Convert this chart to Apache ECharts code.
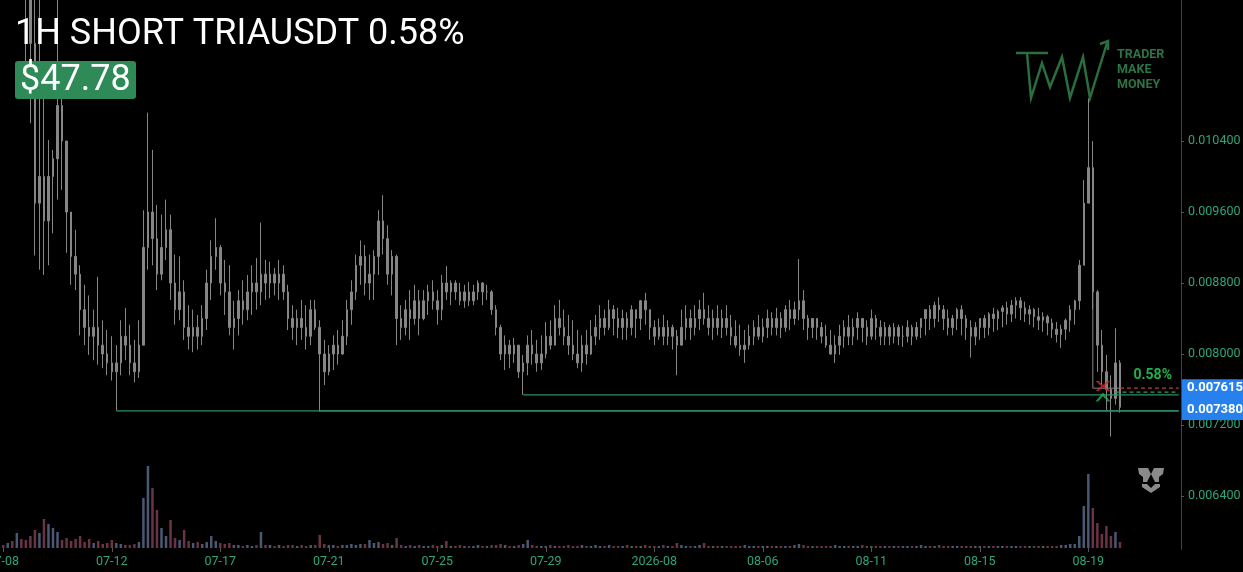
<!DOCTYPE html>
<html>
<head>
<meta charset="utf-8">
<script src="https://cdn.jsdelivr.net/npm/echarts@6/dist/echarts.min.js"></script>
<style>
html,body{margin:0;padding:0;background:#000;}
#c{width:1243px;height:572px;}
</style>
</head>
<body>
<div id="c"></div>
<script>
// ---------------- DATA ----------------
const tickLabels = ['07-08','07-12','07-17','07-21','07-25','07-29','2026-08','08-06','08-11','08-15','08-19'];
const yTicks = [0.0064, 0.0072, 0.0080, 0.0088, 0.0096, 0.0104];

const firstOpen = 0.0130;
const closes = [
0.0128,0.0131,0.0127,0.0129,0.0126,0.0121,0.0115,0.0097,0.0100,0.0095,
0.0100,0.0102,0.0108,0.0104,0.0096,0.0091,0.0089,0.0085,0.0083,0.0082,
0.0083,0.0081,0.0080,0.0079,0.0078,0.0079,0.0082,0.0081,0.0079,0.0078,
0.0081,0.0092,0.0096,0.0093,0.0089,0.0092,0.0094,0.0088,0.0085,0.0087,
0.0083,0.0082,0.0083,0.0082,0.0084,0.0088,0.0091,0.0092,0.0088,0.0087,
0.0083,0.0084,0.0086,0.0085,0.0087,0.0088,0.0087,0.0089,0.0088,0.0089,
0.0088,0.0089,0.0087,0.0084,0.0083,0.0084,0.0083,0.0082,0.0085,0.0083,
0.0080,0.0078,0.0080,0.0081,0.0080,0.0082,0.0085,0.0087,0.0090,0.0091,
0.0088,0.0089,0.0091,0.0095,0.0093,0.0089,0.0091,0.0084,0.0083,0.0085,
0.0084,0.0086,0.0084,0.0086,0.0087,0.0086,0.0085,0.0088,0.0087,0.0088,
0.0087,0.0086,0.0087,0.0086,0.0087,0.0088,0.0087,0.0087,0.0085,0.0083,
0.0080,0.0081,0.0080,0.0081,0.0078,0.0079,0.0081,0.0080,0.0079,0.0080,
0.0082,0.0081,0.0084,0.0083,0.0082,0.0081,0.0080,0.0079,0.0081,0.0080,
0.0082,0.0083,0.0084,0.0083,0.0085,0.0084,0.0083,0.0084,0.0083,0.0085,
0.0084,0.0086,0.0085,0.0083,0.0082,0.0083,0.0082,0.0083,0.0082,0.0081,
0.0083,0.0084,0.0083,0.0084,0.0085,0.0084,0.0083,0.0084,0.0083,0.0084,
0.0083,0.0082,0.0081,0.00805,0.0081,0.0082,0.0083,0.0082,0.0083,0.0084,
0.0083,0.0084,0.0083,0.0085,0.0084,0.0085,0.0086,0.0084,0.0083,0.0084,
0.0083,0.0082,0.0081,0.0080,0.0081,0.0082,0.0083,0.0082,0.0083,0.0084,
0.0083,0.0082,0.0084,0.0083,0.0082,0.0083,0.0082,0.0083,0.0082,0.0082,
0.0083,0.0082,0.0083,0.0084,0.0085,0.0084,0.00855,0.0085,0.0084,0.0083,
0.0084,0.0085,0.0084,0.0083,0.0082,0.0083,0.0084,0.0083,0.00845,0.0084,
0.00848,0.00852,0.00845,0.00855,0.0086,0.00852,0.00845,0.0085,0.00842,0.00838,
0.00842,0.00835,0.00828,0.00822,0.00828,0.00838,0.0085,0.0086,0.0090,0.0097,
0.0101,0.0087,0.0081,0.0078,0.0076,0.0075,0.0079,0.0074
];
const highs = [
0.0133,0.0135,0.0133,0.0134,0.0132,0.0129,0.0127,0.0123,0.0124,0.01097,
0.01041,0.0103,0.0122,0.0112,0.0103,0.00957,0.0094,0.0090,0.00878,0.00866,
0.0085,0.00887,0.00838,0.00827,0.0082,0.0081,0.00838,0.00852,0.00833,0.00816,
0.00838,0.00962,0.01072,0.0103,0.00968,0.00957,0.00974,0.00957,0.00912,0.0091,
0.00883,0.00855,0.0085,0.00844,0.00855,0.00895,0.00928,0.00953,0.00923,0.00906,
0.0090,0.0086,0.00872,0.00883,0.00889,0.0090,0.00908,0.00948,0.00906,0.00904,
0.00897,0.00906,0.0090,0.00878,0.00855,0.0085,0.00861,0.00855,0.00861,0.00861,
0.00838,0.00816,0.0081,0.00821,0.00827,0.00838,0.00861,0.00883,0.00912,0.00928,
0.00923,0.00912,0.00917,0.00962,0.00979,0.00945,0.00917,0.00912,0.00855,0.00861,
0.00872,0.00878,0.00872,0.00872,0.00878,0.00883,0.00872,0.00889,0.00899,0.00883,
0.00883,0.0088,0.00878,0.00881,0.00878,0.00883,0.00881,0.00878,0.00872,0.00855,
0.00833,0.00821,0.00816,0.00818,0.0081,0.00799,0.00821,0.00827,0.00816,0.00821,
0.00836,0.00838,0.00855,0.00861,0.0085,0.00844,0.00838,0.00827,0.00821,0.00827,
0.00838,0.00844,0.00855,0.0085,0.00861,0.00855,0.00852,0.0085,0.00847,0.00855,
0.0085,0.00861,0.00869,0.0085,0.00838,0.0084,0.00844,0.00838,0.00833,0.00827,
0.0085,0.00855,0.0085,0.00855,0.00861,0.00869,0.00855,0.0085,0.00855,0.0085,
0.00855,0.00844,0.00838,0.00833,0.00827,0.00833,0.00838,0.00844,0.0084,0.0085,
0.00847,0.00852,0.00847,0.00855,0.00861,0.00859,0.00907,0.00872,0.00844,0.0084,
0.00838,0.00836,0.00833,0.00827,0.00821,0.00833,0.00838,0.00844,0.0084,0.00847,
0.0084,0.00838,0.0085,0.00844,0.00838,0.00836,0.00833,0.00835,0.00833,0.00832,
0.00838,0.00833,0.00836,0.0084,0.0085,0.00855,0.00859,0.00864,0.00855,0.0085,
0.00844,0.00852,0.00855,0.00844,0.00838,0.00836,0.0084,0.00844,0.00847,0.00852,
0.0085,0.00855,0.00859,0.00861,0.00864,0.00864,0.00859,0.00855,0.00852,0.00852,
0.00847,0.00844,0.0084,0.00836,0.00833,0.0084,0.00855,0.00861,0.00906,0.00996,
0.01088,0.0104,0.00872,0.00827,0.00799,0.00776,0.00829,0.00793
];
const lows = [
0.0125,0.0126,0.0124,0.0123,0.0122,0.0112,0.0106,0.00911,0.00895,0.00889,
0.0090,0.00936,0.00974,0.00985,0.00914,0.00878,0.00872,0.00821,0.0081,0.00799,
0.00793,0.00788,0.00784,0.00776,0.0077,0.00736,0.00776,0.00793,0.00776,0.00768,
0.00773,0.00827,0.00895,0.0090,0.00872,0.00883,0.00906,0.00861,0.00833,0.00838,
0.00816,0.00805,0.00802,0.00805,0.0081,0.00827,0.00861,0.00895,0.00866,0.00844,
0.00821,0.00805,0.00821,0.00833,0.00838,0.00844,0.0085,0.00855,0.00861,0.00863,
0.00866,0.00861,0.00861,0.00827,0.00816,0.0081,0.00816,0.00805,0.0081,0.00827,
0.00735,0.00765,0.00776,0.00782,0.00788,0.00799,0.0081,0.00833,0.00861,0.00878,
0.00866,0.00861,0.00861,0.00889,0.00912,0.00878,0.00866,0.0081,0.00816,0.00821,
0.00816,0.00833,0.00821,0.00838,0.00844,0.0085,0.00833,0.00838,0.00861,0.00855,
0.00861,0.00855,0.00852,0.00854,0.00855,0.00861,0.00855,0.00861,0.00844,0.00821,
0.00793,0.00782,0.00784,0.0079,0.00773,0.00754,0.00776,0.00788,0.0078,0.00782,
0.00795,0.00805,0.0081,0.00821,0.0081,0.00799,0.00793,0.00784,0.0078,0.00788,
0.00799,0.0081,0.00816,0.00821,0.00827,0.00821,0.00818,0.00816,0.00816,0.00821,
0.00818,0.00827,0.00833,0.00816,0.0081,0.00816,0.0081,0.0081,0.00805,0.00776,
0.0081,0.00816,0.00816,0.00821,0.00827,0.00833,0.00821,0.00816,0.00821,0.00818,
0.00821,0.0081,0.00807,0.00798,0.0079,0.00805,0.0081,0.00816,0.00813,0.00818,
0.00821,0.00821,0.00818,0.00825,0.00827,0.00833,0.00838,0.00827,0.00816,0.00818,
0.00816,0.00812,0.00807,0.00799,0.0079,0.00799,0.00807,0.0081,0.0081,0.00816,
0.00813,0.0081,0.00816,0.00816,0.0081,0.0081,0.0081,0.00812,0.0081,0.00808,
0.00813,0.0081,0.00816,0.00818,0.00821,0.00827,0.0083,0.00836,0.00827,0.00821,
0.00821,0.00827,0.00821,0.00816,0.00796,0.0081,0.00816,0.00818,0.00821,0.00825,
0.00827,0.0083,0.00833,0.00836,0.0084,0.00838,0.00836,0.00833,0.0083,0.00827,
0.00825,0.00821,0.00818,0.00813,0.00807,0.00816,0.00825,0.00833,0.0085,0.0090,
0.00974,0.0085,0.0078,0.00765,0.00737,0.00707,0.00743,0.00734
];
const volumes = [
3,5,7,15,9,8,12,18,15,29,
24,20,16,8,10,7,9,12,6,9,
5,7,4,5,8,5,4,3,3,4,
6,50,82,60,38,20,12,28,10,8,
18,7,5,6,4,6,12,7,5,4,
5,3,3,2,3,2,3,16,3,3,
2,3,2,3,3,2,3,2,3,3,
13,4,3,3,2,3,3,4,3,4,
4,8,5,6,4,5,3,10,3,2,
3,2,3,2,2,3,2,3,7,2,
2,3,2,2,2,3,2,2,3,3,
4,3,2,2,3,4,8,3,2,2,
2,3,2,2,2,3,2,2,3,2,
2,3,2,2,3,2,2,2,3,2,
2,2,3,2,2,2,3,2,2,5,
3,2,2,2,3,5,2,2,2,2,
2,2,2,2,3,2,2,2,2,2,
2,2,2,2,2,3,4,3,2,2,
2,2,2,2,3,2,2,2,2,2,
3,2,2,2,2,2,2,2,2,2,
2,2,2,3,2,2,2,3,2,2,
2,2,2,2,2,2,2,2,2,2,
2,2,2,2,2,2,2,2,2,2,
2,2,2,2,3,3,4,4,12,42,
74,40,25,14,22,12,16,6
];

// trade annotations
const supportPrice = 0.00736;
const supportStartA = 25;
const supportStartB = 70;
const midSupportPrice = 0.00754;
const midSupportStart = 115;
const entryPrice = 0.007615;
const targetPrice = 0.00757;
const lastPrice = 0.007380;
const boxTopPrice = 0.00947;
const boxStart = 241;
const entryStart = 247;
const targetStart = 246;
const markerIndex = 243;
const shortMarkPrice = 0.00764;
const coverMarkPrice = 0.007515;
const pnlLabel = '0.58%';

// ---------------- BUILD ----------------
const N_SLOTS = 261;
const lastSlot = N_SLOTS - 1;
const categories = Array.from({length: N_SLOTS}, (_, i) => String(i));
const opens = closes.map((c, i) => i === 0 ? firstOpen : closes[i - 1]);
const ohlc = closes.map((c, i) => [opens[i], c, lows[i], highs[i]]);
const LABEL_STEP = 24;
const showTick = (idx) => idx % LABEL_STEP === 0;

const AX_GREEN = '#2ba57c';
const LINE_GREEN = '#2d8c6e';
const GRAY = '#868686';

const chart = echarts.init(document.getElementById('c'), null, {renderer: 'canvas'});

const option = {
  backgroundColor: '#000',
  animation: false,
  grid: [
    {left: 1, right: 62, top: -1, bottom: 22.75, outerBoundsMode: 'none', containLabel: false},
    {left: 1, right: 62, top: 448, bottom: 24, outerBoundsMode: 'none', containLabel: false}
  ],
  xAxis: [
    {type: 'category', gridIndex: 0, data: categories, show: false, boundaryGap: true},
    {type: 'category', gridIndex: 1, data: categories, boundaryGap: true,
      axisLine: {show: false},
      axisTick: {show: true, interval: showTick, alignWithLabel: true, length: 4, lineStyle: {color: '#555'}},
      axisLabel: {interval: showTick, formatter: (v, i) => tickLabels[i / LABEL_STEP] || '',
        color: AX_GREEN, fontSize: 12.5, fontFamily: 'Roboto', margin: 7, hideOverlap: false},
      splitLine: {show: false}}
  ],
  yAxis: [
    {type: 'value', gridIndex: 0, position: 'right', min: 0.0058, max: 0.012,
      splitLine: {show: false},
      axisLine: {show: true, lineStyle: {color: '#444'}},
      axisTick: {show: true, length: 3, customValues: yTicks, lineStyle: {color: '#555'}},
      axisLabel: {customValues: yTicks, formatter: v => v.toFixed(6), color: AX_GREEN,
        fontSize: 12.5, fontFamily: 'Roboto', margin: 7}},
    {type: 'value', gridIndex: 1, min: 0, max: 100, show: false}
  ],
  series: [
    {type: 'bar', xAxisIndex: 1, yAxisIndex: 1, data: volumes, barWidth: 2.5, z: 1,
      itemStyle: {color: p => closes[p.dataIndex] >= opens[p.dataIndex] ? '#4a5874' : '#6a3346'}},
    {type: 'candlestick', xAxisIndex: 0, yAxisIndex: 0, data: ohlc, barWidth: 2, clip: true, z: 2,
      itemStyle: {color: GRAY, color0: GRAY, borderColor: GRAY, borderColor0: GRAY, borderWidth: 1}},
    {type: 'line', xAxisIndex: 0, yAxisIndex: 0, symbol: 'none', z: 3,
      data: [[supportStartA, supportPrice], [lastSlot, supportPrice]],
      lineStyle: {color: LINE_GREEN, width: 1.2}},
    {type: 'line', xAxisIndex: 0, yAxisIndex: 0, symbol: 'none', z: 3,
      data: [[supportStartB, supportPrice], [lastSlot, supportPrice]],
      lineStyle: {color: LINE_GREEN, width: 1.2}},
    {type: 'line', xAxisIndex: 0, yAxisIndex: 0, symbol: 'none', z: 3,
      data: [[midSupportStart, midSupportPrice], [lastSlot, midSupportPrice]],
      lineStyle: {color: LINE_GREEN, width: 1.2}},
    {type: 'line', xAxisIndex: 0, yAxisIndex: 0, symbol: 'none', z: 3,
      data: [[boxStart, boxTopPrice], [boxStart, entryPrice], [entryStart, entryPrice]],
      lineStyle: {color: GRAY, width: 1}},
    {type: 'line', xAxisIndex: 0, yAxisIndex: 0, symbol: 'none', z: 3,
      data: [[entryStart, entryPrice], [lastSlot, entryPrice]],
      lineStyle: {color: '#b83c3c', width: 1.2, type: [4, 3]}},
    {type: 'line', xAxisIndex: 0, yAxisIndex: 0, symbol: 'none', z: 3,
      data: [[targetStart, targetPrice], [lastSlot, targetPrice]],
      lineStyle: {color: '#2e9a5a', width: 1.2, type: [4, 3]}},
    {type: 'scatter', xAxisIndex: 0, yAxisIndex: 0, z: 5,
      symbol: 'path://M0,0H3L7,4L11,0H14L8.5,5L14,10H11L7,6L3,10H0L5.5,5Z',
      symbolSize: [15, 10], symbolOffset: [1, 0],
      itemStyle: {color: '#d52a2a'}, data: [[markerIndex, shortMarkPrice]]},
    {type: 'scatter', xAxisIndex: 0, yAxisIndex: 0, z: 5,
      symbol: 'path://M0,7L7,0L14,7L11.5,7L7,2.8L2.5,7Z',
      symbolSize: [15, 9], symbolOffset: [1, 0],
      itemStyle: {color: '#22b24c'}, data: [[markerIndex, coverMarkPrice]]}
  ]
};
chart.setOption(option);

// ---------------- overlay text / logos ----------------
const yEntry = chart.convertToPixel({yAxisIndex: 0}, entryPrice);
const yLast = chart.convertToPixel({yAxisIndex: 0}, lastPrice);

const logoGreen = '#2a6e40';
chart.setOption({
  graphic: [
    {type: 'text', z: 100, style: {text: '1H SHORT TRIAUSDT 0.58%', x: 15, y: 35, verticalAlign: 'middle',
      font: '36px Roboto', fill: '#ffffff'}},
    {type: 'rect', z: 100, shape: {x: 15, y: 61, width: 121, height: 38, r: 3}, style: {fill: '#2e8b57'}},
    {type: 'text', z: 101, style: {text: '$47.78', x: 20, y: 81, verticalAlign: 'middle',
      font: '36px Roboto', fill: '#ffffff'}},
    // watermark logo
    {type: 'polyline', z: 50, shape: {points: [[1016, 53], [1048, 53]]}, style: {stroke: logoGreen, lineWidth: 2.5, fill: null}},
    {type: 'polyline', z: 50, shape: {points: [[1027, 53], [1031, 98], [1042, 63], [1050, 87], [1062, 57], [1070, 98], [1083, 57], [1090, 98], [1107, 43]]},
      style: {stroke: logoGreen, lineWidth: 2.5, fill: null, lineJoin: 'miter'}},
    {type: 'polyline', z: 50, shape: {points: [[1100, 44], [1108, 41], [1108, 50]]}, style: {stroke: logoGreen, lineWidth: 2.5, fill: null}},
    {type: 'text', z: 50, style: {text: 'TRADER', x: 1117, y: 55, verticalAlign: 'middle', font: 'bold 12.5px Roboto', fill: '#2c7445'}},
    {type: 'text', z: 50, style: {text: 'MAKE', x: 1117, y: 70, verticalAlign: 'middle', font: 'bold 12.5px Roboto', fill: '#2c7445'}},
    {type: 'text', z: 50, style: {text: 'MONEY', x: 1117, y: 85, verticalAlign: 'middle', font: 'bold 12.5px Roboto', fill: '#2c7445'}},
    // bottom-right emblem
    {type: 'polygon', z: 50, shape: {points: [[1138, 468], [1148, 468], [1151, 474], [1147, 482], [1143, 482], [1143, 477], [1139, 474]]}, style: {fill: '#8a8a8a'}},
    {type: 'polygon', z: 50, shape: {points: [[1164, 468], [1154, 468], [1151, 474], [1155, 482], [1159, 482], [1159, 477], [1163, 474]]}, style: {fill: '#8a8a8a'}},
    {type: 'polygon', z: 50, shape: {points: [[1142, 484], [1147, 484], [1151, 488], [1155, 484], [1160, 484], [1160, 487], [1151, 493], [1142, 487]]}, style: {fill: '#8a8a8a'}},
    // pnl label
    {type: 'text', z: 60, style: {text: pnlLabel, x: 1172, y: yEntry - 13, align: 'right', verticalAlign: 'middle',
      font: 'bold 14px Roboto', fill: '#22b24c'}},
    // price tags on the axis
    {type: 'rect', z: 60, shape: {x: 1182, y: yEntry - 9, width: 61, height: (yLast - yEntry) + 20}, style: {fill: '#2680ee'}},
    {type: 'text', z: 61, style: {text: entryPrice.toFixed(6), x: 1187, y: yEntry, verticalAlign: 'middle',
      font: 'bold 13px Roboto', fill: '#ffffff'}},
    {type: 'text', z: 61, style: {text: lastPrice.toFixed(6), x: 1187, y: yLast + 1, verticalAlign: 'middle',
      font: 'bold 13px Roboto', fill: '#ffffff'}}
  ]
});
</script>
</body>
</html>
